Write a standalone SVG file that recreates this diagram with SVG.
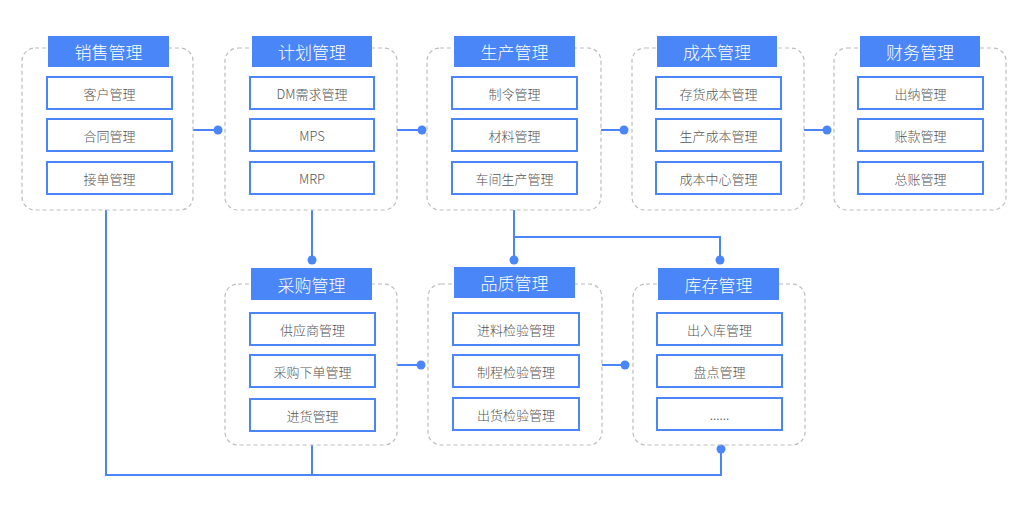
<svg xmlns="http://www.w3.org/2000/svg" width="1024" height="511" viewBox="0 0 1024 511">
<style>
.box{fill:none;stroke:#bdbdbd;stroke-width:1.2;stroke-dasharray:4 3}
.hd{fill:#4a86f8}
.ht{fill:#fff;font-family:"Noto Sans CJK SC","Noto Sans",sans-serif;font-size:17px;font-weight:300;text-anchor:middle;dominant-baseline:central}
.it{fill:#fff;stroke:#4a86f8;stroke-width:2}
.tt{fill:#555;font-family:"Noto Sans CJK SC","Noto Sans",sans-serif;font-size:13px;font-weight:300;text-anchor:middle;dominant-baseline:central}
.ln{fill:none;stroke:#4a86f8;stroke-width:2}
.dt{fill:#4a86f8}
</style>
<rect width="1024" height="511" fill="#fff"/>
<g id="connectors">
<path class="ln" d="M193 130H218M397 130H422M601 130H624M804 130H827"/>
<path class="ln" d="M312 210V260M514 210V260M514 237H720V260"/>
<path class="ln" d="M397 365H421M602 365H625"/>
<path class="ln" d="M106 210V475H721V449M312 445V475"/>
<circle class="dt" cx="218" cy="130" r="4.5"/>
<circle class="dt" cx="422" cy="130" r="4.5"/>
<circle class="dt" cx="624" cy="130" r="4.5"/>
<circle class="dt" cx="827" cy="130" r="4.5"/>
<circle class="dt" cx="312" cy="260" r="4.5"/>
<circle class="dt" cx="514" cy="260" r="4.5"/>
<circle class="dt" cx="720" cy="260" r="4.5"/>
<circle class="dt" cx="421" cy="365" r="4.5"/>
<circle class="dt" cx="625" cy="365" r="4.5"/>
<circle class="dt" cx="721" cy="449" r="4.5"/>
</g>
<g id="sales">
<rect class="box" x="22" y="48" width="171" height="162" rx="13"/>
<rect class="hd" x="48" y="36" width="121" height="31"/>
<text class="ht" x="108.5" y="51.5">销售管理</text>
<rect class="it" x="47" y="77" width="125" height="32"/><text class="tt" x="109.5" y="93">客户管理</text>
<rect class="it" x="47" y="119" width="125" height="32"/><text class="tt" x="109.5" y="135">合同管理</text>
<rect class="it" x="47" y="162" width="125" height="32"/><text class="tt" x="109.5" y="178">接单管理</text>
</g>
<g id="plan">
<rect class="box" x="225" y="48" width="172" height="162" rx="13"/>
<rect class="hd" x="252" y="36" width="120" height="31"/>
<text class="ht" x="312" y="51.5">计划管理</text>
<rect class="it" x="250" y="77" width="124" height="32"/><text class="tt" x="312" y="93">DM需求管理</text>
<rect class="it" x="250" y="119" width="124" height="32"/><text class="tt" x="312" y="135">MPS</text>
<rect class="it" x="250" y="162" width="124" height="32"/><text class="tt" x="312" y="178">MRP</text>
</g>
<g id="production">
<rect class="box" x="427" y="48" width="174" height="162" rx="13"/>
<rect class="hd" x="454" y="36" width="121" height="31"/>
<text class="ht" x="514.5" y="51.5">生产管理</text>
<rect class="it" x="452" y="77" width="125" height="32"/><text class="tt" x="514.5" y="93">制令管理</text>
<rect class="it" x="452" y="119" width="125" height="32"/><text class="tt" x="514.5" y="135">材料管理</text>
<rect class="it" x="452" y="162" width="125" height="32"/><text class="tt" x="514.5" y="178">车间生产管理</text>
</g>
<g id="cost">
<rect class="box" x="632" y="48" width="172" height="162" rx="13"/>
<rect class="hd" x="657" y="36" width="120" height="31"/>
<text class="ht" x="717" y="51.5">成本管理</text>
<rect class="it" x="656" y="77" width="125" height="32"/><text class="tt" x="718.5" y="93">存货成本管理</text>
<rect class="it" x="656" y="119" width="125" height="32"/><text class="tt" x="718.5" y="135">生产成本管理</text>
<rect class="it" x="656" y="162" width="125" height="32"/><text class="tt" x="718.5" y="178">成本中心管理</text>
</g>
<g id="finance">
<rect class="box" x="834" y="48" width="172" height="162" rx="13"/>
<rect class="hd" x="860" y="36" width="120" height="31"/>
<text class="ht" x="920" y="51.5">财务管理</text>
<rect class="it" x="858" y="77" width="125" height="32"/><text class="tt" x="920.5" y="93">出纳管理</text>
<rect class="it" x="858" y="119" width="125" height="32"/><text class="tt" x="920.5" y="135">账款管理</text>
<rect class="it" x="858" y="162" width="125" height="32"/><text class="tt" x="920.5" y="178">总账管理</text>
</g>
<g id="purchase">
<rect class="box" x="225" y="284" width="172" height="161" rx="13"/>
<rect class="hd" x="251" y="268" width="121" height="32"/>
<text class="ht" x="311.5" y="284">采购管理</text>
<rect class="it" x="250" y="313" width="125" height="32"/><text class="tt" x="312.5" y="329">供应商管理</text>
<rect class="it" x="250" y="355" width="125" height="32"/><text class="tt" x="312.5" y="371">采购下单管理</text>
<rect class="it" x="250" y="399" width="125" height="32"/><text class="tt" x="312.5" y="415">进货管理</text>
</g>
<g id="quality">
<rect class="box" x="428" y="284" width="174" height="161" rx="13"/>
<rect class="hd" x="454" y="267" width="121" height="31"/>
<text class="ht" x="514.5" y="282.5">品质管理</text>
<rect class="it" x="453" y="313" width="126" height="32"/><text class="tt" x="516" y="329">进料检验管理</text>
<rect class="it" x="453" y="355" width="126" height="32"/><text class="tt" x="516" y="371">制程检验管理</text>
<rect class="it" x="453" y="398" width="126" height="32"/><text class="tt" x="516" y="414">出货检验管理</text>
</g>
<g id="inventory">
<rect class="box" x="633" y="284" width="172" height="161" rx="13"/>
<rect class="hd" x="658" y="268" width="121" height="32"/>
<text class="ht" x="718.5" y="284">库存管理</text>
<rect class="it" x="657" y="313" width="125" height="32"/><text class="tt" x="719.5" y="329">出入库管理</text>
<rect class="it" x="657" y="355" width="125" height="32"/><text class="tt" x="719.5" y="371">盘点管理</text>
<rect class="it" x="657" y="398" width="125" height="32"/><text class="tt" x="719.5" y="414">......</text>
</g>
</svg>
